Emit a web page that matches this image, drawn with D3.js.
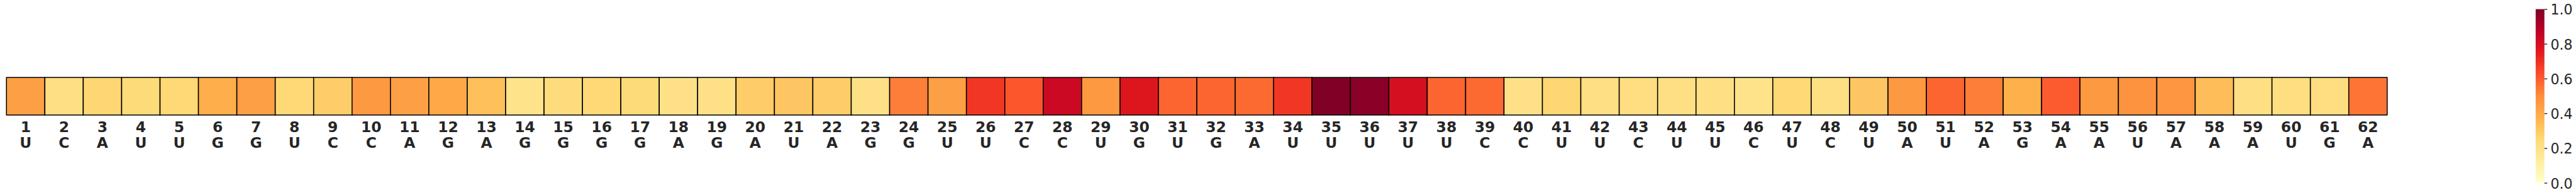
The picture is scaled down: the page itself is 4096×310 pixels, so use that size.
<!DOCTYPE html>
<html>
<head>
<meta charset="utf-8">
<script src="https://cdn.jsdelivr.net/npm/d3@7"></script>
<style>
  html, body { margin: 0; padding: 0; background: #fff; }
  svg { display: block; }
</style>
</head>
<body>
<div id="chart"></div>
<script>
// ---- data ----
const positions = d3.range(1, 63).map(String);
const bases = ["U","C","A","U","U","G","G","U","C","C",
               "A","G","A","G","G","G","G","A","G","A",
               "U","A","G","G","U","U","C","C","U","G",
               "U","G","A","U","U","U","U","U","C","C",
               "U","U","C","U","U","C","U","C","U","A",
               "U","A","G","A","A","U","A","A","A","U",
               "G","A"];
const values = [0.44,0.21,0.26,0.24,0.25,0.39,0.44,0.25,0.29,0.46,
                0.44,0.41,0.33,0.19,0.23,0.25,0.24,0.20,0.20,0.29,
                0.31,0.29,0.20,0.53,0.44,0.68,0.61,0.83,0.46,0.77,
                0.58,0.58,0.57,0.68,1.00,0.98,0.80,0.58,0.57,0.20,
                0.26,0.21,0.22,0.21,0.21,0.19,0.25,0.21,0.31,0.46,
                0.58,0.53,0.38,0.60,0.46,0.48,0.47,0.34,0.21,0.22,
                0.22,0.55];
const cbarTicks = [0, 0.2, 0.4, 0.6, 0.8, 1.0];
const ylorrd = ["#ffffcc","#ffeda0","#fed976","#feb24c","#fd8d3c","#fc4e2a","#e31a1c","#bd0026","#800026"];

// ---- layout (reference pixel units, scaled to window) ----
const W = 4096, H = 310, RW = 6385;
const k = W / RW;

const svg = d3.select("#chart").append("svg")
  .attr("width", W).attr("height", H);
const g = svg.append("g").attr("transform", `scale(${k})`);

const color = d3.scaleLinear()
  .domain(ylorrd.map((_, i) => i / (ylorrd.length - 1)))
  .range(ylorrd)
  .interpolate(d3.interpolateRgb);

const x = d3.scaleBand().domain(positions).range([16, 5917]).padding(0);
const y0 = 192, y1 = 285;

g.append("g").selectAll("rect")
  .data(positions)
  .join("rect")
  .attr("x", d => x(d))
  .attr("y", y0)
  .attr("width", x.bandwidth())
  .attr("height", y1 - y0)
  .attr("fill", (d, i) => color(values[i]))
  .attr("stroke", "#000")
  .attr("stroke-width", 2.4);

const labels = g.append("g")
  .attr("font-family", "'DejaVu Sans', sans-serif")
  .attr("font-weight", "bold")
  .attr("font-size", 36.5)
  .attr("fill", "#262626")
  .attr("text-anchor", "middle");

labels.selectAll("text.num")
  .data(positions)
  .join("text")
  .attr("class", "num")
  .attr("x", d => x(d) + x.bandwidth() / 2)
  .attr("y", 327)
  .text(d => d);

labels.selectAll("text.base")
  .data(positions)
  .join("text")
  .attr("class", "base")
  .attr("x", d => x(d) + x.bandwidth() / 2)
  .attr("y", 367)
  .text((d, i) => bases[i]);

// ---- colorbar ----
const cbX = 6285, cbW = 21.7;
const yc = d3.scaleLinear().domain([0, 1]).range([453.3, 22.7]);

const defs = svg.append("defs");
const grad = defs.append("linearGradient")
  .attr("id", "cbgrad")
  .attr("x1", 0).attr("y1", 1).attr("x2", 0).attr("y2", 0);
grad.selectAll("stop")
  .data(ylorrd)
  .join("stop")
  .attr("offset", (d, i) => i / (ylorrd.length - 1))
  .attr("stop-color", d => d);

g.append("rect")
  .attr("x", cbX)
  .attr("y", yc(1))
  .attr("width", cbW)
  .attr("height", yc(0) - yc(1))
  .attr("fill", "url(#cbgrad)");

const axis = g.append("g")
  .attr("transform", `translate(${cbX + cbW},0)`)
  .call(d3.axisRight(yc).tickValues(cbarTicks).tickFormat(d3.format(".1f")).tickSize(7).tickPadding(8));
axis.select(".domain").remove();
axis.selectAll(".tick line").attr("stroke", "#262626").attr("stroke-width", 2.2);
axis.selectAll(".tick text")
  .attr("fill", "#262626")
  .attr("font-family", "'DejaVu Sans', sans-serif")
  .attr("font-size", 34.5)
  .attr("dy", "0.38em");
</script>
</body>
</html>
